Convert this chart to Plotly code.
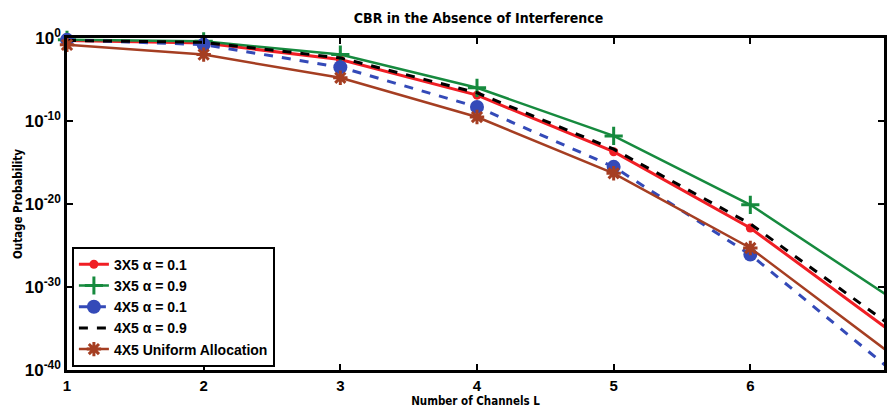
import plotly.graph_objects as go

# Number of channels L
channels = [1, 2, 3, 4, 5, 6, 7]

# Outage probability for each configuration
p_3x5_a01 = [5e-1, 2.5e-1, 2.5e-3, 1.3e-7, 2e-14, 1.3e-23, 1e-35]
p_3x5_a09 = [6e-1, 4e-1, 1e-2, 1e-6, 1.6e-12, 8e-21, 1e-31]
p_4x5_a01 = [6e-1, 1.6e-1, 3e-4, 5e-9, 3e-16, 8e-27, 2.5e-40]
p_4x5_a09 = [5e-1, 3e-1, 4e-3, 2.5e-7, 4e-14, 4e-23, 5e-35]
p_4x5_uniform = [1.5e-1, 1e-2, 1.6e-5, 3e-10, 5e-17, 5e-26, 2e-38]

series_names = [
    "3X5 α = 0.1",
    "3X5 α = 0.9",
    "4X5 α = 0.1",
    "4X5 α = 0.9",
    "4X5 Uniform Allocation",
]

y_tick_vals = [1e0, 1e-10, 1e-20, 1e-30, 1e-40]
y_tick_text = ["10<sup>0</sup>", "10<sup>-10</sup>", "10<sup>-20</sup>",
               "10<sup>-30</sup>", "10<sup>-40</sup>"]
x_tick_vals = [1, 2, 3, 4, 5, 6, 7]

RED = "rgb(240,30,36)"
GREEN = "rgb(22,138,62)"
BLUE = "rgb(52,74,184)"
BLACK = "black"
BROWN = "rgb(165,62,34)"

fig = go.Figure()

fig.add_trace(go.Scatter(
    x=channels, y=p_3x5_a01, name=f"<b>{series_names[0]}</b>", mode="lines+markers",
    line=dict(color=RED, width=3),
    marker=dict(symbol="circle", size=9, color=RED),
    cliponaxis=False,
))
fig.add_trace(go.Scatter(
    x=channels, y=p_3x5_a09, name=f"<b>{series_names[1]}</b>", mode="lines+markers",
    line=dict(color=GREEN, width=2.5),
    marker=dict(symbol="cross-thin-open", size=13,
                line=dict(color=GREEN, width=3)),
    cliponaxis=False,
))
fig.add_trace(go.Scatter(
    x=channels, y=p_4x5_a01, name=f"<b>{series_names[2]}</b>", mode="lines+markers",
    line=dict(color=BLUE, width=3, dash="dash"),
    marker=dict(symbol="circle", size=14, color=BLUE),
    cliponaxis=False,
))
fig.add_trace(go.Scatter(
    x=channels, y=p_4x5_a09, name=f"<b>{series_names[3]}</b>", mode="lines",
    line=dict(color=BLACK, width=3, dash="dash"),
))
fig.add_trace(go.Scatter(
    x=channels, y=p_4x5_uniform, name=f"<b>{series_names[4]}</b>", mode="lines+markers",
    line=dict(color=BROWN, width=2.5),
    marker=dict(symbol="asterisk-open", size=12,
                line=dict(color=BROWN, width=3)),
    cliponaxis=False,
))

axis_font = dict(family="Liberation Sans, Arial", size=15, color="black")
label_font = dict(family="DejaVu Sans Condensed", size=11.5, color="black")

fig.update_layout(
    width=887,
    height=408,
    margin=dict(l=67, r=0, t=38, b=38),
    paper_bgcolor="white",
    plot_bgcolor="white",
    title=dict(
        text="<b>CBR in the Absence of Interference</b>",
        font=dict(family="DejaVu Sans Condensed", size=14, color="black"),
        x=(67 + 890) / 2 / 887, xanchor="center",
        y=1 - 18 / 408, yanchor="middle",
    ),
    legend=dict(
        x=0.006, y=0.01, xanchor="left", yanchor="bottom",
        bgcolor="white", bordercolor="black", borderwidth=2,
        font=dict(family="Liberation Sans, Arial", size=14, color="black"),
        itemwidth=30, tracegroupgap=0,
    ),
    showlegend=True,
)

fig.update_xaxes(
    range=[1, 1 + (887 - 67) / ((890 - 67) / 6)],
    tickvals=x_tick_vals,
    ticktext=[f"<b>{v}</b>" for v in x_tick_vals],
    ticks="inside", ticklen=6, tickwidth=2, tickcolor="black",
    showline=True, linewidth=2.5, linecolor="black", mirror="allticks",
    showgrid=False, zeroline=False,
    tickfont=axis_font,
    title=dict(text="<b>Number of Channels L</b>", font=label_font, standoff=2),
)
fig.update_yaxes(
    type="log",
    range=[-40, 0],
    tickvals=y_tick_vals,
    ticktext=[f"<b>{t}</b>" for t in y_tick_text],
    ticks="inside", ticklen=6, tickwidth=2, tickcolor="black",
    showline=True, linewidth=2.5, linecolor="black", mirror="allticks",
    showgrid=False, zeroline=False,
    tickfont=dict(family="Liberation Sans, Arial", size=17, color="black"),
    title=dict(text="<b>Outage Probability</b>", font=label_font, standoff=0),
)

fig.write_html("out.html")
